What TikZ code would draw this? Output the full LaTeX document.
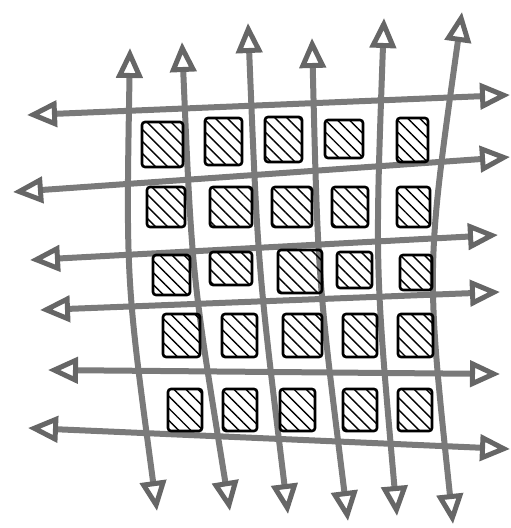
\documentclass[tikz,border=0pt]{standalone}
\usetikzlibrary{arrows.meta,patterns.meta}
\definecolor{pen}{HTML}{7A7A7A}
\definecolor{penhead}{HTML}{666666}
\tikzset{
  tipstyle/.style={},
  gridline/.style={draw=pen, line width=6pt, line cap=round,
    {Triangle[open,length=30pt,width=26pt,line width=5pt,color=penhead]}-{Triangle[open,length=30pt,width=26pt,line width=5pt,color=penhead]}},
  cellbox/.style={draw=black, line width=2.6pt, rounded corners=3pt, inner sep=0pt,
    pattern={Lines[angle=-45,distance=8.5pt,line width=1.4pt]}, pattern color=black}
}
\newcommand{\cellat}[5]{\node[cellbox, minimum width=#4pt, minimum height=#5pt] (#1) at (#2,#3) {};}
\begin{document}
\begin{tikzpicture}[x=1pt,y=-1pt]
\useasboundingbox (0,0) rectangle (511,528);
% vertical line endpoints
\coordinate (v1t) at (130,48);  \coordinate (v1c) at (126,280); \coordinate (v1b) at (157,511);
\coordinate (v2t) at (182,42);  \coordinate (v2c) at (192,276); \coordinate (v2b) at (230,511);
\coordinate (v3t) at (248,23);  \coordinate (v3c) at (258,268); \coordinate (v3b) at (288,514);
\coordinate (v4t) at (312,38);  \coordinate (v4c) at (318,280); \coordinate (v4b) at (348,521);
\coordinate (v5t) at (384,18);  \coordinate (v5c) at (375,267); \coordinate (v5b) at (397,516);
\coordinate (v6t) at (462,12);  \coordinate (v6c) at (426,268); \coordinate (v6b) at (453,524);
% horizontal line endpoints
\coordinate (h1l) at (27,115);  \coordinate (h1r) at (510,95);
\coordinate (h2l) at (13,192);  \coordinate (h2r) at (510,157);
\coordinate (h3l) at (30,260);  \coordinate (h3r) at (498,235);
\coordinate (h4l) at (40,310);  \coordinate (h4r) at (500,292);
\coordinate (h5l) at (48,370);  \coordinate (h5r) at (500,374);
\coordinate (h6l) at (28,428);  \coordinate (h6r) at (510,449);
% lines
\foreach \i in {1,...,6} {
  \draw[gridline] (v\i t) .. controls (v\i c) .. (v\i b);
  \draw[gridline] (h\i l) -- (h\i r);
}
% cells
\cellat{c11}{162.5}{144.5}{41}{45}
\cellat{c12}{223.5}{141.5}{37}{47}
\cellat{c13}{283.5}{139.5}{37}{45}
\cellat{c14}{344}{139}{38}{38}
\cellat{c15}{412.5}{140}{31}{44}
\cellat{c21}{166}{207}{38}{40}
\cellat{c22}{231}{207}{42}{40}
\cellat{c23}{292}{207}{40}{40}
\cellat{c24}{350}{207}{36}{40}
\cellat{c25}{413.5}{207}{33}{40}
\cellat{c31}{171.5}{275}{37}{40}
\cellat{c32}{231}{268.5}{42}{33}
\cellat{c33}{300}{271.5}{44}{43}
\cellat{c34}{354.5}{270}{35}{36}
\cellat{c35}{416}{272.5}{32}{35}
\cellat{c41}{181.5}{335.5}{37}{43}
\cellat{c42}{239.5}{335.5}{35}{43}
\cellat{c43}{302.5}{335.5}{39}{43}
\cellat{c44}{360}{335.5}{34}{43}
\cellat{c45}{415.5}{335.5}{35}{43}
\cellat{c51}{185}{410}{34}{42}
\cellat{c52}{240}{410}{34}{42}
\cellat{c53}{297.5}{410}{35}{42}
\cellat{c54}{360}{410}{34}{42}
\cellat{c55}{415}{410}{34}{42}
\end{tikzpicture}
\end{document}
